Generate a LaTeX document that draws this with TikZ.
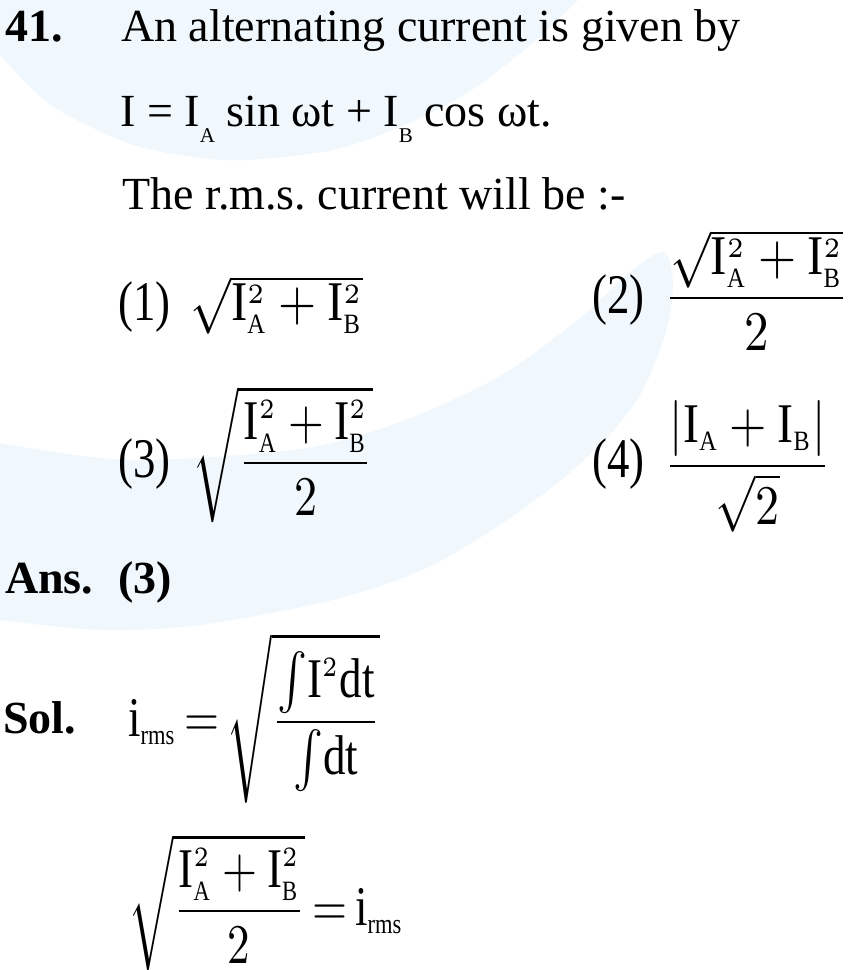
\RequirePackage{fix-cm}
\documentclass[tikz,border=0pt]{standalone}
\usepackage{amsmath}
\usepackage{graphicx}
\usepackage{fontspec}
\setmainfont{Liberation Serif}
\usetikzlibrary{positioning}
\definecolor{wm_blue}{RGB}{240, 248, 253}
\DeclareMathSizes{10}{10}{5}{5}
\frenchspacing
% equations set small, then blown up narrow, as in the scan
\newcommand{\eqbox}[2][4.9]{\scalebox{#1}[5.6]{#2}}
\newcommand{\lbox}[1]{\scalebox{0.8}[1]{#1}}
\newcommand{\lowsub}[1]{\raisebox{-16pt}{\fontsize{21}{21}\selectfont #1}}
\newcommand{\IA}{\mathrm{I}_{\mathrm{A}}}
\newcommand{\IB}{\mathrm{I}_{\mathrm{B}}}
\newcommand{\eqs}{\mkern-2mu=\mkern-2mu}

\begin{document}
\begin{tikzpicture}[x=1pt, y=-1pt,
          txt/.style={anchor=base west, inner sep=0pt,
                      font=\fontsize{46}{50}\selectfont},
          hd/.style={txt, font=\fontsize{46}{50}\selectfont\bfseries},
          lbl/.style={anchor=base west, inner sep=0pt,
                      font=\fontsize{56}{60}\selectfont},
          eq/.style={anchor=base west, inner sep=0pt,
                     font=\fontsize{10}{12}\selectfont}]
  \useasboundingbox (0,0) rectangle (864,970);
  % watermark
  \fill[wm_blue] (0,0) -- plot[smooth] coordinates {(578,0) (533,43)
    (467,93) (400,127) (333,150) (250,160) (200,158) (133,145) (67,115)
    (33,90) (0,55)} -- cycle;
  \fill[wm_blue] (-5,443) -- plot[smooth] coordinates {(0,443) (130,460)
    (300,449) (400,422) (500,376) (580,318) (630,272) (664,252) (673,285)
    (665,335) (640,395) (600,445) (533,502) (433,565) (333,600) (200,625)
    (100,630) (0,620)} -- (-5,620) -- cycle;
  % question
  \node[hd] (num) at (5,41) {41.};
  \node[txt] (q1) at (121,41) {An alternating current is given by};
  \node[txt] (q2) at (120,126)
    {I = I\lowsub{A} sin ωt + I\lowsub{B} cos ωt.};
  \node[txt] (q3) at (122,209) {The r.m.s. current will be :-};
  % options
  \node[lbl] (l1) at (118,320) {\lbox{(1)}};
  \node[eq] (o1) at (190,320) {\eqbox{$\sqrt{\IA^2+\IB^2}$}};
  \node[lbl] (l2) at (592,313) {\lbox{(2)}};
  \node[eq] (o2) at (664,312) {\eqbox{$\dfrac{\sqrt{\IA^2+\IB^2}}{2}$}};
  \node[lbl] (l3) at (118,477) {\lbox{(3)}};
  \node[eq] (o3) at (192,477)
    {\eqbox[4.6]{$\sqrt{\dfrac{\IA^2+\IB^2}{2}}$}};
  \node[lbl] (l4) at (592,477) {\lbox{(4)}};
  \node[eq] (o4) at (664,480)
    {\eqbox[4.8]{$\dfrac{\left|\IA+\IB\right|}{\sqrt{2}}$}};
  % answer and solution
  \node[hd] (ans) at (5,593) {Ans.};
  \node[hd] (ansv) at (118,593) {(3)};
  \node[hd] (sol) at (3,733) {Sol.};
  \node[eq] (s1) at (128,736) {\eqbox[4.5]{$\mathrm{i}_{\mathrm{rms}}\eqs
    \sqrt{\dfrac{\int\!\mathrm{I}^2\mathrm{dt}}{\int\!\mathrm{dt}}}$}};
  \node[eq] (s2) at (128,925) {\eqbox[4.5]{$\sqrt{\dfrac{\IA^2+\IB^2}{2}}
    \eqs\mathrm{i}_{\mathrm{rms}}$}};
\end{tikzpicture}
\end{document}
